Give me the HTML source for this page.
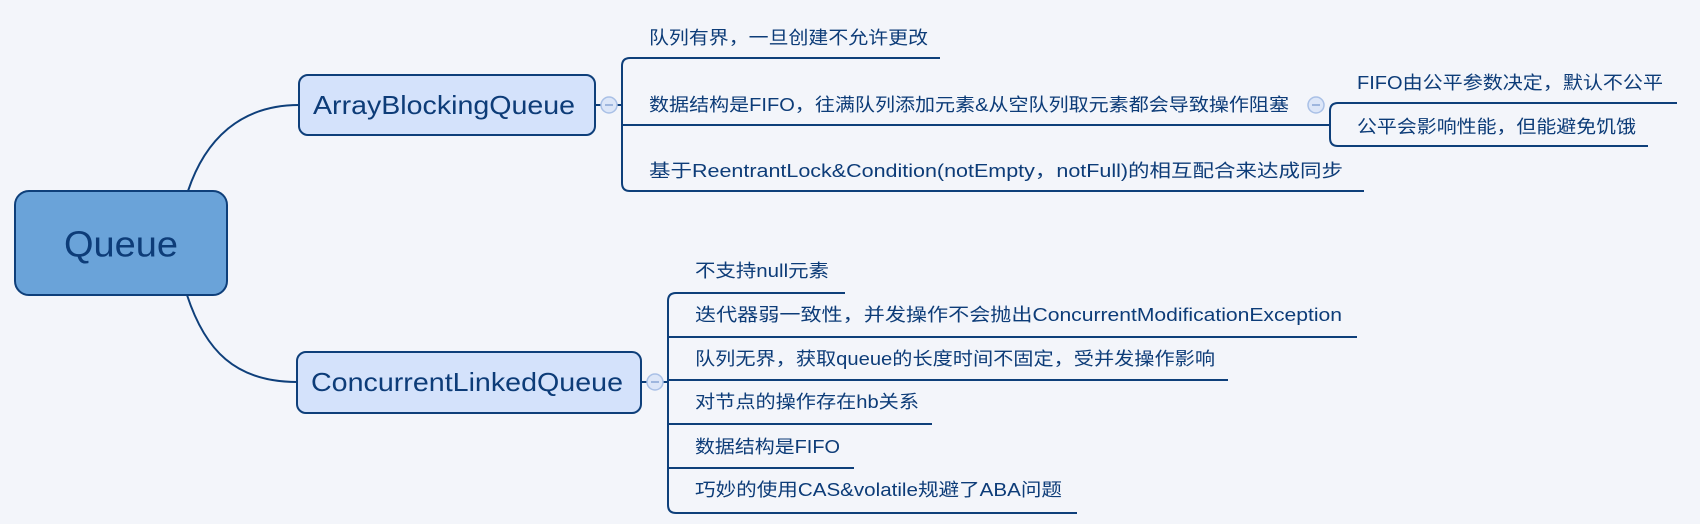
<!DOCTYPE html>
<html><head><meta charset="utf-8"><style>
html,body{margin:0;padding:0;background:#f3f5fa;}
svg{display:block;}
text{font-family:"Liberation Sans","Noto Sans CJK SC",sans-serif;fill:#0d3c78;dominant-baseline:central;}
</style></head><body>
<svg width="1700" height="524" viewBox="0 0 1700 524" xmlns="http://www.w3.org/2000/svg">
<rect width="1700" height="524" fill="#f3f5fa"/>
<g fill="none" stroke="#0e3f7a" stroke-width="2">
<path d="M188 191 C205 140 240 105 299 105"/>
<path d="M187 295 C205 350 235 382 297 382"/>
<!-- ABQ bracket -->
<path d="M596 105 H622"/>
<path d="M940 58 H630 Q622 58 622 66 V183 Q622 191 630 191 H1364"/>
<path d="M622 125 H1327"/>
<!-- sub bracket -->
<path d="M1316 125 H1330"/>
<path d="M1677 103 H1338 Q1330 103 1330 111 V138 Q1330 146 1338 146 H1648"/>
<!-- CLQ bracket -->
<path d="M642 382 H668"/>
<path d="M845 293 H676 Q668 293 668 301 V505 Q668 513 676 513 H1077"/>
<path d="M668 337 H1357"/>
<path d="M668 380 H1228"/>
<path d="M668 424 H932"/>
<path d="M668 468 H854"/>
</g>
<rect x="15" y="191" width="212" height="104" rx="14" fill="#6aa3d9" stroke="#0e3f7a" stroke-width="2"/>
<rect x="299" y="75" width="296" height="60" rx="9" fill="#d4e2fb" stroke="#0e3f7a" stroke-width="2"/>
<rect x="297" y="352" width="344" height="61" rx="9" fill="#d4e2fb" stroke="#0e3f7a" stroke-width="2"/>
<g fill="#dce6f8" stroke="#a9c0e6" stroke-width="1.5">
<circle cx="609" cy="105" r="8"/><circle cx="1316" cy="105" r="8"/><circle cx="655" cy="382" r="8"/>
</g>
<g stroke="#8aa6d6" stroke-width="1.5"><path d="M605 105H613M1312 105H1320M651 382H659"/></g>
<text x="64" y="244" font-size="36" textLength="114" lengthAdjust="spacingAndGlyphs">Queue</text>
<text x="313" y="105" font-size="26" textLength="262" lengthAdjust="spacingAndGlyphs">ArrayBlockingQueue</text>
<text x="311" y="382" font-size="26" textLength="312" lengthAdjust="spacingAndGlyphs">ConcurrentLinkedQueue</text>
<g font-size="18">
<text x="649" y="38" textLength="279" lengthAdjust="spacingAndGlyphs">队列有界，一旦创建不允许更改</text>
<text x="649" y="105" textLength="640" lengthAdjust="spacingAndGlyphs">数据结构是FIFO，往满队列添加元素&amp;从空队列取元素都会导致操作阻塞</text>
<text x="649" y="171" textLength="694" lengthAdjust="spacingAndGlyphs">基于ReentrantLock&amp;Condition(notEmpty，notFull)的相互配合来达成同步</text>
<text x="1357" y="83" textLength="306" lengthAdjust="spacingAndGlyphs">FIFO由公平参数决定，默认不公平</text>
<text x="1357" y="127" textLength="279" lengthAdjust="spacingAndGlyphs">公平会影响性能，但能避免饥饿</text>
<text x="695" y="271" textLength="134" lengthAdjust="spacingAndGlyphs">不支持null元素</text>
<text x="695" y="315" textLength="647" lengthAdjust="spacingAndGlyphs">迭代器弱一致性，并发操作不会抛出ConcurrentModificationException</text>
<text x="695" y="359" textLength="520" lengthAdjust="spacingAndGlyphs">队列无界，获取queue的长度时间不固定，受并发操作影响</text>
<text x="695" y="402" textLength="224" lengthAdjust="spacingAndGlyphs">对节点的操作存在hb关系</text>
<text x="695" y="447" textLength="145" lengthAdjust="spacingAndGlyphs">数据结构是FIFO</text>
<text x="695" y="490" textLength="367" lengthAdjust="spacingAndGlyphs">巧妙的使用CAS&amp;volatile规避了ABA问题</text>
</g>
</svg>
</body></html>
